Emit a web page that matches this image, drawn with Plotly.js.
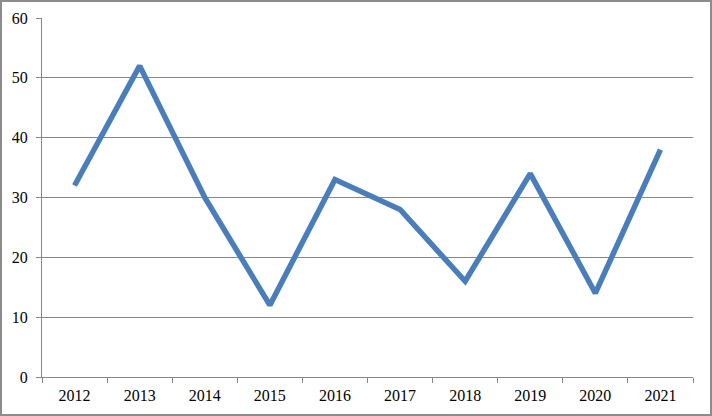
<!DOCTYPE html>
<html>
<head>
<meta charset="utf-8">
<script src="https://cdn.plot.ly/plotly-3.0.1.min.js"></script>
<style>
  body { margin: 0; background: #fff; }
  #wrap { position: relative; width: 712px; height: 416px; }
  #chart { position: absolute; left: 0; top: 0; width: 712px; height: 416px; }
  #frame { position: absolute; left: 0; top: 0; width: 712px; height: 416px;
           box-sizing: border-box; border: 2px solid #8c8c8c; pointer-events: none; }
</style>
</head>
<body>
<div id="wrap">
  <div id="chart"></div>
  <div id="frame"></div>
</div>
<script>
var years = ['2012', '2013', '2014', '2015', '2016', '2017', '2018', '2019', '2020', '2021'];
var values = [32, 52, 30, 12, 33, 28, 16, 34, 14, 38];
var yTicks = [0, 10, 20, 30, 40, 50, 60];

var trace = {
  x: years,
  y: values,
  type: 'scatter',
  mode: 'lines',
  line: { color: '#4a7ebb', width: 5.5 },
  hoverinfo: 'none'
};

var axisFont = { family: '"Liberation Serif", "DejaVu Serif", serif', size: 16, color: '#000' };

var layout = {
  width: 712,
  height: 416,
  margin: { l: 42, r: 19, t: 18, b: 39 },
  paper_bgcolor: '#fff',
  plot_bgcolor: '#fff',
  showlegend: false,
  xaxis: {
    type: 'category',
    range: [-0.5, years.length - 0.5],
    tickson: 'boundaries',
    ticks: 'outside',
    ticklen: 5,
    tickcolor: '#868686',
    showgrid: false,
    showline: true,
    linecolor: '#868686',
    linewidth: 1,
    tickfont: axisFont,
    ticklabelstandoff: 4,
    zeroline: false
  },
  yaxis: {
    range: [0, 60],
    tickvals: yTicks,
    ticks: 'outside',
    ticklen: 5,
    tickcolor: '#868686',
    showgrid: true,
    gridcolor: '#868686',
    gridwidth: 1,
    showline: true,
    linecolor: '#868686',
    linewidth: 1,
    zeroline: false,
    tickfont: axisFont,
    ticklabelstandoff: 5
  }
};

Plotly.newPlot('chart', [trace], layout, { staticPlot: true });
</script>
</body>
</html>
